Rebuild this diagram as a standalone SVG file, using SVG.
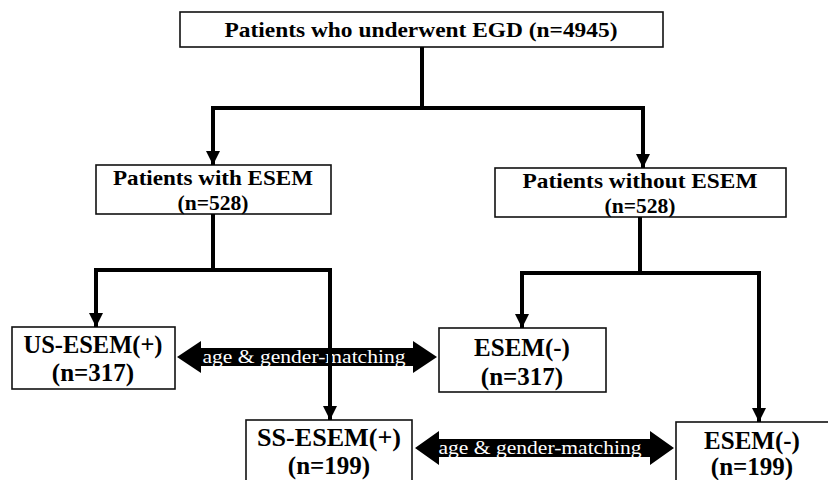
<svg xmlns="http://www.w3.org/2000/svg" width="828" height="480" viewBox="0 0 828 480">
<defs>
<marker id="ah" markerUnits="userSpaceOnUse" markerWidth="16" markerHeight="16" viewBox="0 0 16 16" refX="14" refY="8" orient="auto">
<path d="M0,1 L14,8 L0,15 Z" fill="#000"/>
</marker>
</defs>
<style>
.box{fill:#fff;stroke:#111;stroke-width:1.6}
.t{font-family:"Liberation Serif","Times New Roman",serif;font-weight:bold;fill:#000;text-anchor:middle}
.t1{font-size:21px}
.t2{font-size:21px}
.t3{font-size:25px}
.m{font-family:"Liberation Serif","Times New Roman",serif;font-size:19px;fill:#fff;text-anchor:middle}
.c{fill:none;stroke:#000;stroke-width:4;stroke-linejoin:miter}
.dbl{fill:#000}
</style>
<rect width="828" height="480" fill="#fff"/>
<g id="egd">
<rect class="box" x="180" y="12" width="483" height="35"/>
<text class="t t1" x="421" y="37" textLength="393" lengthAdjust="spacingAndGlyphs">Patients who underwent EGD (n=4945)</text>
</g>
<g id="with-esem">
<rect class="box" x="96" y="165" width="235" height="49"/>
<text class="t t2" x="213" y="185" textLength="200" lengthAdjust="spacingAndGlyphs">Patients with ESEM</text>
<text class="t t2" x="213" y="210" textLength="71" lengthAdjust="spacingAndGlyphs">(n=528)</text>
</g>
<g id="without-esem">
<rect class="box" x="495" y="168" width="291" height="49"/>
<text class="t t2" x="640" y="188" textLength="235" lengthAdjust="spacingAndGlyphs">Patients without ESEM</text>
<text class="t t2" x="640" y="213" textLength="71" lengthAdjust="spacingAndGlyphs">(n=528)</text>
</g>
<g id="us-esem">
<rect class="box" x="12" y="327" width="163" height="62"/>
<text class="t t3" x="93" y="353" textLength="139" lengthAdjust="spacingAndGlyphs">US-ESEM(+)</text>
<text class="t t3" x="93" y="381">(n=317)</text>
</g>
<g id="esem-neg-1">
<rect class="box" x="439" y="328" width="167" height="64"/>
<text class="t t3" x="522" y="356">ESEM(-)</text>
<text class="t t3" x="522" y="385">(n=317)</text>
</g>
<g id="ss-esem">
<rect class="box" x="246" y="420" width="166" height="64"/>
<text class="t t3" x="329" y="446" textLength="144" lengthAdjust="spacingAndGlyphs">SS-ESEM(+)</text>
<text class="t t3" x="329" y="474">(n=199)</text>
</g>
<g id="esem-neg-2">
<rect class="box" x="676" y="422" width="160" height="64"/>
<text class="t t3" x="752" y="449">ESEM(-)</text>
<text class="t t3" x="752" y="475">(n=199)</text>
</g>
<g id="match-1">
<polygon class="dbl" points="177,357 201,341 201,348 413,348 413,341 437,357 413,373 413,366 201,366 201,373"/>
<text class="m" x="304" y="363" textLength="203" lengthAdjust="spacingAndGlyphs">age &amp; gender-matching</text>
</g>
<g id="match-2">
<polygon class="dbl" points="415,448 439,431 439,439 650,439 650,431 674,448 650,465 650,457 439,457 439,465"/>
<text class="m" x="540" y="454" textLength="203" lengthAdjust="spacingAndGlyphs">age &amp; gender-matching</text>
</g>
<g id="connectors">
<path class="c" d="M422,47 V108"/>
<path class="c" d="M422,108 H213 V165" marker-end="url(#ah)"/>
<path class="c" d="M422,108 H643 V168" marker-end="url(#ah)"/>
<path class="c" d="M213,214 V270"/>
<path class="c" d="M213,270 H96 V327" marker-end="url(#ah)"/>
<path class="c" d="M213,270 H330 V420" marker-end="url(#ah)"/>
<path class="c" d="M640,217 V273"/>
<path class="c" d="M640,273 H522 V328" marker-end="url(#ah)"/>
<path class="c" d="M640,273 H759 V422" marker-end="url(#ah)"/>
</g>
</svg>
